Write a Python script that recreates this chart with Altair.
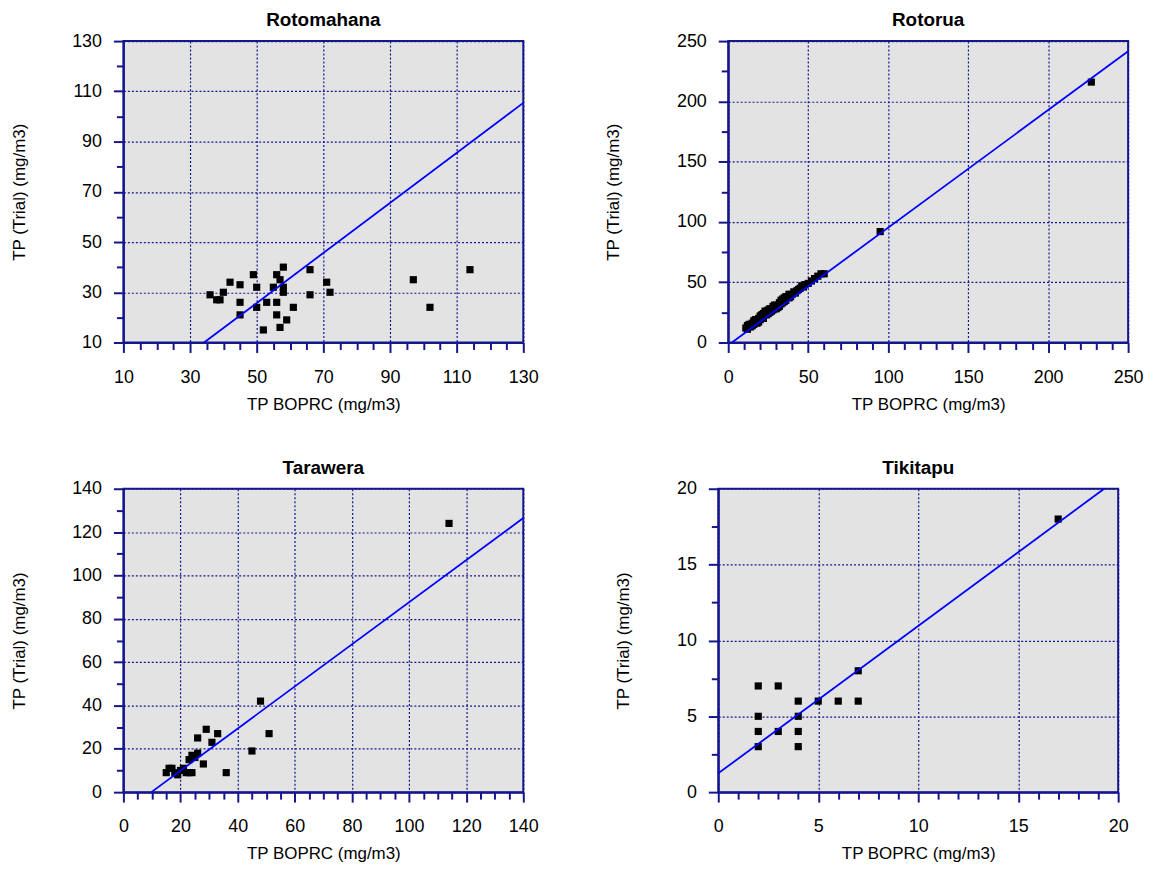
import altair as alt
import pandas as pd

# ---------------- data ----------------
# Rotomahana
roto_x = [36, 38, 39, 40, 42, 45, 45, 45, 49, 50, 50, 52, 53, 55, 56, 56, 56, 57, 57,
          58, 58, 58, 59, 61, 66, 66, 71, 72, 97, 102, 114]
roto_y = [29, 27, 27, 30, 34, 33, 26, 21, 37, 32, 24, 15, 26, 32, 37, 26, 21, 35, 16,
          40, 32, 30, 19, 24, 39, 29, 34, 30, 35, 24, 39]
roto_line_x = [34.2, 130]
roto_line_y = [10, 105.4]

# Rotorua
rotorua_x = [11, 12, 12, 13, 13, 14, 14, 15, 15, 16, 16, 17, 17, 18, 18, 19, 19, 20, 20,
             21, 21, 22, 22, 23, 23, 24, 24, 25, 25, 26, 26, 27, 27, 28, 28, 29, 29, 30,
             30, 31, 32, 32, 33, 33, 34, 34, 35, 35, 36, 36, 37, 38, 38, 39, 40, 41, 42,
             43, 44, 45, 46, 47, 48, 50, 52, 54, 56, 58, 60, 95, 227]
rotorua_y = [12, 11, 14, 13, 15, 15, 13, 16, 14, 15, 18, 17, 19, 19, 16, 20, 17, 19, 22,
             21, 23, 24, 20, 23, 26, 26, 23, 24, 27, 25, 28, 28, 26, 27, 30, 28, 31, 31,
             28, 29, 33, 30, 32, 35, 36, 33, 34, 37, 35, 38, 38, 37, 40, 38, 40, 42, 41,
             43, 44, 45, 47, 46, 48, 49, 51, 53, 55, 57, 57, 92, 216]
rotorua_line_x = [2.3, 250]
rotorua_line_y = [0, 241.5]

# Tarawera
tara_x = [15, 16, 17, 18, 19, 20, 21, 22, 23, 23, 24, 24, 25, 26, 26, 28, 29, 31, 33,
          36, 45, 48, 51, 114]
tara_y = [9, 11, 11, 9, 8, 10, 11, 9, 15, 9, 17, 9, 16, 18, 25, 13, 29, 23, 27,
          9, 19, 42, 27, 124]
tara_line_x = [9.8, 140]
tara_line_y = [0, 126.5]

# Tikitapu
tiki_x = [2, 3, 2, 2, 2, 3, 4, 4, 4, 4, 5, 6, 7, 7, 17]
tiki_y = [7, 7, 5, 4, 3, 4, 6, 5, 4, 3, 6, 6, 6, 8, 18]
tiki_line_x = [0, 19.3]
tiki_line_y = [1.24, 20]

NAVY = "#16168c"
FONT = "Liberation Sans"
W = 402


def rng(a, b, step):
    out = []
    v = a
    while v <= b + 1e-9:
        out.append(round(v, 4))
        v += step
    return out


def panel(px, py, lx, ly, title, xdom, ydom, xstep_major, xstep_minor,
          ystep_major, ystep_minor, ytitle_x, h):
    pts = pd.DataFrame({"x": px, "y": py})
    ln = pd.DataFrame({"x": lx, "y": ly})
    xs = alt.Scale(domain=xdom, nice=False, zero=False)
    ys = alt.Scale(domain=ydom, nice=False, zero=False)
    xmaj = rng(xdom[0], xdom[1], xstep_major)
    ymaj = rng(ydom[0], ydom[1], ystep_major)
    xmin = [v for v in rng(xdom[0], xdom[1], xstep_minor) if v not in xmaj]
    ymin = [v for v in rng(ydom[0], ydom[1], ystep_minor) if v not in ymaj]

    pts_layer = alt.Chart(pts).mark_square(size=52, color="black", opacity=1).encode(
        x=alt.X("x:Q", scale=xs, axis=alt.Axis(
            values=xmaj, tickSize=10, title="TP BOPRC (mg/m3)", orient="bottom",
            labelPadding=16, titlePadding=10, format="d")),
        y=alt.Y("y:Q", scale=ys, axis=alt.Axis(
            values=ymaj, tickSize=10, title="TP (Trial) (mg/m3)", orient="left",
            labelPadding=12, titleX=ytitle_x, titleBaseline="middle", format="d")),
    )
    line_layer = alt.Chart(ln).mark_line(color="#0000ff", strokeWidth=1.8).encode(
        x=alt.X("x:Q", scale=xs, axis=alt.Axis(
            values=xmin, tickSize=7, labels=False, grid=False, domain=False,
            title=None, orient="bottom")),
        y=alt.Y("y:Q", scale=ys, axis=alt.Axis(
            values=ymin, tickSize=7, labels=False, grid=False, domain=False,
            title=None, orient="left")),
    )
    return alt.layer(pts_layer, line_layer, title=alt.Title(title)).resolve_axis(
        x="independent", y="independent").properties(width=W, height=h)


p1 = panel(roto_x, roto_y, roto_line_x, roto_line_y, "Rotomahana",
           [10, 130], [10, 130], 20, 5, 20, 10, -104, 303)
p2 = panel(rotorua_x, rotorua_y, rotorua_line_x, rotorua_line_y, "Rotorua",
           [0, 250], [0, 250], 50, 10, 50, 25, -115, 303)
p3 = panel(tara_x, tara_y, tara_line_x, tara_line_y, "Tarawera",
           [0, 140], [0, 140], 20, 5, 20, 10, -104, 305)
p4 = panel(tiki_x, tiki_y, tiki_line_x, tiki_line_y, "Tikitapu",
           [0, 20], [0, 20], 5, 1, 5, 2.5, -95, 305)

row1 = alt.hconcat(p1, p2, spacing=64)
row2 = alt.hconcat(p3, p4, spacing=74)
chart = alt.vconcat(row1, row2, spacing=45).properties(
    padding={"left": 2, "top": 0, "right": 5, "bottom": 5}
).configure(
    font=FONT, background="white"
).configure_view(
    fill="#e3e3e3", stroke=NAVY, strokeWidth=2
).configure_axis(
    domainColor=NAVY, domainWidth=2, tickColor=NAVY, tickWidth=2,
    gridColor=NAVY, gridDash=[2, 2], gridWidth=1.2, gridOpacity=1,
    labelFont=FONT, labelFontSize=18, labelColor="black",
    titleFont=FONT, titleFontSize=17, titleFontWeight="normal", titleColor="black",
    labelFlush=False, labelOverlap=False
).configure_title(
    font=FONT, fontSize=19, fontWeight="bold", color="black", offset=2, anchor="middle"
)

chart.save("out.html", embed_options={"renderer": "svg", "actions": False})
